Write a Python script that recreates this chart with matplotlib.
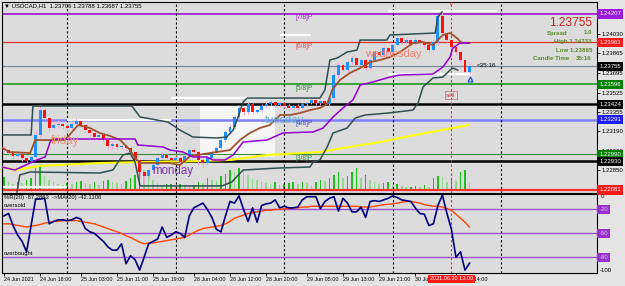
import numpy as np
import matplotlib
matplotlib.use("Agg")
import matplotlib.pyplot as plt
import matplotlib.transforms as mtransforms

plt.rcParams["font.family"] = ["Liberation Sans", "DejaVu Sans"]

# hourly candles, 24 Jun 10:00 .. 30 Jun 13:00 (bar index = x)
opens = [1.23045, 1.23027, 1.23001, 1.22975, 1.22993, 1.22958, 1.22932, 1.22967, 1.23158, 1.23374,
         1.23305, 1.23218, 1.23244, 1.23253, 1.23236, 1.23218, 1.23253, 1.23279, 1.23244, 1.23201,
         1.23175, 1.23140, 1.23158, 1.23114, 1.23062, 1.23080, 1.23054, 1.23062, 1.23045, 1.23010,
         1.22941, 1.22837, 1.22802, 1.22854, 1.22897, 1.22958, 1.22984, 1.22958, 1.22941, 1.22958,
         1.22923, 1.22975, 1.23027, 1.23010, 1.22941, 1.22915, 1.22958, 1.23010, 1.23045, 1.23114,
         1.23184, 1.23227, 1.23314, 1.23392, 1.23357, 1.23426, 1.23357, 1.23374, 1.23409, 1.23426,
         1.23444, 1.23418, 1.23435, 1.23409, 1.23392, 1.23409, 1.23392, 1.23426, 1.23435, 1.23461,
         1.23435, 1.23452, 1.23426, 1.23478, 1.23678, 1.23764, 1.23721, 1.23790, 1.23825, 1.23764,
         1.23808, 1.23738, 1.23808, 1.23877, 1.23851, 1.23912, 1.23877, 1.23938, 1.23999, 1.23964,
         1.23981, 1.23947, 1.23981, 1.23964, 1.23938, 1.23894, 1.23964, 1.24189, 1.24042, 1.23981,
         1.23921, 1.23877, 1.23808, 1.23706]
highs = [1.23062, 1.23045, 1.23010, 1.23010, 1.23001, 1.22967, 1.22984, 1.23201, 1.23418, 1.23392,
         1.23314, 1.23270, 1.23288, 1.23262, 1.23253, 1.23270, 1.23305, 1.23288, 1.23253, 1.23210,
         1.23184, 1.23175, 1.23167, 1.23123, 1.23097, 1.23088, 1.23080, 1.23071, 1.23062, 1.23019,
         1.22950, 1.22845, 1.22871, 1.22915, 1.22975, 1.23010, 1.22993, 1.22975, 1.22975, 1.22967,
         1.22993, 1.23045, 1.23045, 1.23019, 1.22950, 1.22975, 1.23027, 1.23062, 1.23132, 1.23201,
         1.23253, 1.23331, 1.23418, 1.23409, 1.23444, 1.23435, 1.23383, 1.23426, 1.23444, 1.23461,
         1.23452, 1.23444, 1.23444, 1.23426, 1.23418, 1.23426, 1.23435, 1.23452, 1.23478, 1.23470,
         1.23461, 1.23461, 1.23496, 1.23695, 1.23790, 1.23782, 1.23808, 1.23842, 1.23834, 1.23825,
         1.23816, 1.23825, 1.23894, 1.23886, 1.23929, 1.23921, 1.23955, 1.24016, 1.24007, 1.23999,
         1.23990, 1.23999, 1.23990, 1.23973, 1.23947, 1.23981, 1.24198, 1.24224, 1.24051, 1.23990,
         1.23929, 1.23886, 1.23816, 1.23788]
lows = [1.23010, 1.22984, 1.22950, 1.22958, 1.22932, 1.22906, 1.22923, 1.22941, 1.23140, 1.23288,
        1.23192, 1.23210, 1.23227, 1.23210, 1.23192, 1.23201, 1.23244, 1.23227, 1.23184, 1.23149,
        1.23106, 1.23123, 1.23097, 1.23036, 1.23045, 1.23027, 1.23036, 1.23019, 1.22984, 1.22906,
        1.22802, 1.22741, 1.22776, 1.22837, 1.22889, 1.22950, 1.22941, 1.22915, 1.22932, 1.22889,
        1.22906, 1.22958, 1.22984, 1.22889, 1.22871, 1.22897, 1.22941, 1.22993, 1.23027, 1.23097,
        1.23167, 1.23210, 1.23296, 1.23331, 1.23340, 1.23340, 1.23348, 1.23357, 1.23392, 1.23409,
        1.23400, 1.23400, 1.23392, 1.23366, 1.23374, 1.23374, 1.23383, 1.23409, 1.23426, 1.23418,
        1.23418, 1.23409, 1.23409, 1.23461, 1.23652, 1.23704, 1.23704, 1.23773, 1.23747, 1.23747,
        1.23721, 1.23721, 1.23799, 1.23834, 1.23842, 1.23860, 1.23868, 1.23929, 1.23947, 1.23955,
        1.23929, 1.23938, 1.23947, 1.23921, 1.23868, 1.23886, 1.23938, 1.24025, 1.23964, 1.23903,
        1.23851, 1.23790, 1.23695, 1.23687]
closes = [1.23027, 1.23001, 1.22975, 1.22993, 1.22958, 1.22932, 1.22967, 1.23158, 1.23374, 1.23305,
          1.23218, 1.23244, 1.23253, 1.23236, 1.23218, 1.23253, 1.23279, 1.23244, 1.23201, 1.23175,
          1.23140, 1.23158, 1.23114, 1.23062, 1.23080, 1.23054, 1.23062, 1.23045, 1.23010, 1.22941,
          1.22837, 1.22802, 1.22854, 1.22897, 1.22958, 1.22984, 1.22958, 1.22941, 1.22958, 1.22923,
          1.22975, 1.23027, 1.23010, 1.22941, 1.22915, 1.22958, 1.23010, 1.23045, 1.23114, 1.23184,
          1.23227, 1.23314, 1.23392, 1.23357, 1.23426, 1.23357, 1.23374, 1.23409, 1.23426, 1.23444,
          1.23418, 1.23435, 1.23409, 1.23392, 1.23409, 1.23392, 1.23426, 1.23435, 1.23461, 1.23435,
          1.23452, 1.23426, 1.23478, 1.23678, 1.23764, 1.23721, 1.23790, 1.23825, 1.23764, 1.23808,
          1.23738, 1.23808, 1.23877, 1.23851, 1.23912, 1.23877, 1.23938, 1.23999, 1.23964, 1.23981,
          1.23947, 1.23981, 1.23964, 1.23938, 1.23894, 1.23964, 1.24189, 1.24042, 1.23981, 1.23921,
          1.23877, 1.23808, 1.23706, 1.23755]
volumes = [1300, 800, 600, 800, 700, 1000, 1200, 2200, 2400, 1400,
           1000, 800, 600, 500, 700, 600, 800, 900, 700, 600,
           800, 500, 900, 1000, 800, 700, 600, 900, 1200, 1500,
           2600, 2000, 1400, 1000, 700, 500, 600, 600, 400, 600,
           500, 400, 500, 800, 700, 1200, 1000, 900, 1400, 1600,
           2000, 1800, 2200, 2000, 1500, 1200, 1000, 800, 700, 600,
           800, 500, 600, 700, 800, 600, 800, 700, 500, 800,
           1000, 900, 1200, 1500, 1800, 1200, 1400, 1800, 2200, 1200,
           1500, 1000, 800, 600, 700, 800, 500, 600, 400, 300,
           300, 400, 300, 500, 300, 1200, 1400, 1300, 800, 1200,
           900, 1800, 2000, 700]

# Williams %R(20) and its MA(20)
wpr = [-28, -25, -40, -52, -60, -73, -40, -7, -7, -6,
       -38, -35, -33, -33, -34, -33, -30, -32, -44, -48,
       -50, -55, -60, -67, -71, -71, -63, -88, -78, -83,
       -96, -80, -63, -60, -57, -42, -55, -52, -48, -50,
       -55, -28, -18, -15, -12, -20, -30, -45, -48, -28,
       -10, -12, -3, -20, -35, -18, -36, -15, -13, -12,
       -8, -18, -16, -18, -18, -17, -8, -4, -4, -4,
       -19, -10, -6, -4, -22, -6, -12, -23, -23, -17,
       -30, -10, -9, -10, -8, -6, -3, -5, -8, -9,
       -10, -18, -25, -26, -40, -38, -15, -2, -25, -45,
       -80, -73, -96, -87.29]
wpr_ma = [-38, -38, -39, -40, -41, -42, -41, -40, -39, -37,
          -36, -35, -35, -34, -34, -34, -34, -35, -36, -37,
          -38, -40, -42, -44, -46, -48, -50, -53, -55, -58,
          -61, -63, -62, -62, -61, -60, -59, -58, -57, -56,
          -55, -52, -49, -46, -44, -43, -42, -41, -40, -38,
          -35, -31, -29, -27, -25, -24, -23, -22, -21, -21,
          -20, -20, -19, -19, -18, -18, -17, -17, -16, -16,
          -16, -16, -16, -16, -16, -16, -16, -16, -16, -17,
          -17, -17, -16, -15, -14, -13.5, -13, -12, -11, -10,
          -10, -11, -12, -14, -15, -16, -16, -17, -19, -21,
          -26, -31, -36, -42.11]

# indicator lines on the price chart, read as (bar, price) vertices
ma_bars = [-0.4, 1.3, 5.8, 6.9, 13.5, 16.4, 19.0, 21.2, 23.5, 25.7, 26.8, 27.9, 29.0, 30.1,
           36.7, 38.9, 41.2, 47.1, 50.0, 52.2, 54.4, 56.6, 58.8, 61.1, 63.3, 65.5, 67.7,
           69.9, 71.5, 72.6, 74.3, 76.5, 78.8, 81.0, 83.2, 85.4, 87.6, 90.5, 92.7, 94.9,
           97.1, 98.7, 100.2, 101.3, 102.9]
ma_prices = [1.23045, 1.23010, 1.23001, 1.23114, 1.23114, 1.23244, 1.23218, 1.23175, 1.23149,
             1.23114, 1.23071, 1.23027, 1.22958, 1.22915, 1.22915, 1.22897, 1.22975, 1.23010,
             1.23027, 1.23114, 1.23175, 1.23218, 1.23244, 1.23331, 1.23331, 1.23348, 1.23374,
             1.23392, 1.23426, 1.23548, 1.23634, 1.23695, 1.23738, 1.23790, 1.23808, 1.23834,
             1.23877, 1.23955, 1.23964, 1.23938, 1.24025, 1.24042, 1.23999, 1.23955, 1.23955]

band_bars = [-0.4, 2.4, 5.8, 7.3, 9.1, 10.2, 10.8, 29.0, 29.6, 35.2, 36.7, 39.6, 41.8, 44.9,
             46.2, 48.9, 50.7, 52.9, 58.2, 61.7, 68.4, 70.6, 72.8, 75.0, 77.2, 78.8, 81.6,
             85.4, 87.6, 94.9, 97.1, 98.7, 99.3, 100.9, 102.9]
band_prices = [1.22880, 1.22854, 1.22915, 1.22941, 1.22967, 1.23097, 1.23123, 1.23123, 1.23071,
               1.23054, 1.23027, 1.23010, 1.22967, 1.22967, 1.22941, 1.22941, 1.22984, 1.23097,
               1.23114, 1.23175, 1.23184, 1.23218, 1.23314, 1.23392, 1.23461, 1.23591, 1.23617,
               1.23660, 1.23678, 1.23686, 1.23747, 1.23834, 1.23912, 1.23955, 1.23955]

upper_bars = [-0.4, 6.0, 6.4, 28.3, 30.1, 36.3, 38.9, 41.8, 47.1, 49.3, 50.7, 51.8, 52.9, 53.8,
              69.9, 71.0, 72.1, 73.7, 75.9, 78.1, 78.8, 84.7, 85.4, 95.4, 96.0, 96.9]
upper_prices = [1.23158, 1.23158, 1.23409, 1.23409, 1.23314, 1.23270, 1.23201, 1.23140, 1.23132,
                1.23140, 1.23201, 1.23314, 1.23444, 1.23478, 1.23478, 1.23548, 1.23808, 1.23825,
                1.23877, 1.23894, 1.23981, 1.23981, 1.24025, 1.24042, 1.24181, 1.24224]

lower_bars = [2.9, 3.5, 5.8, 21.2, 24.1, 26.3, 27.9, 29.0, 30.1, 48.2, 50.4, 52.9, 60.6, 67.7,
              68.4, 69.9, 71.5, 72.8, 75.9, 77.7, 79.9, 85.0, 90.5, 91.6, 92.7, 94.9, 97.1,
              98.7, 99.3, 100.4]
lower_prices = [1.22663, 1.22811, 1.22837, 1.22828, 1.22854, 1.22984, 1.23001, 1.22923, 1.22716,
                1.22716, 1.22750, 1.22854, 1.22871, 1.22880, 1.22923, 1.22941, 1.23054, 1.23175,
                1.23218, 1.23305, 1.23331, 1.23348, 1.23374, 1.23435, 1.23574, 1.23652, 1.23660,
                1.23721, 1.23738, 1.23721]

slow_bars = [-0.4, 2.4, 8.0, 21.2, 30.1, 43.4, 50.0, 58.2, 69.9, 76.5, 83.2, 89.8, 102.9]
slow_prices = [1.22880, 1.22854, 1.22889, 1.22915, 1.22923, 1.22932, 1.22941, 1.22984,
               1.23010, 1.23054, 1.23097, 1.23149, 1.23244]

# horizontal levels
level_prices = [1.24207, 1.23961, 1.23755, 1.23596, 1.23424, 1.23291, 1.22990, 1.22930, 1.22681]
murrey_labels = ["[7/8]P", "[6/8]P", "[5/8]P", "[4/8]P", "[3/8]P"]
murrey_prices = [1.24207, 1.23961, 1.23596, 1.23291, 1.22990]

white_start = [85, 61, 85, 37, 14, -0.4]
white_end = [109, 68, 103.5, 61, 37, 14]
white_prices = [1.24233, 1.24025, 1.23686, 1.23478, 1.23291, 1.22707]

price_ticks = [1.24030, 1.23865, 1.23695, 1.23525, 1.23355, 1.23190, 1.23020, 1.22850]
time_bars = [0, 8, 17, 25, 33, 42, 50, 58, 67, 75, 83, 91, 100]
time_labels = ["24 Jun 2021", "24 Jun 18:00", "25 Jun 03:00", "25 Jun 11:00", "25 Jun 19:00",
               "28 Jun 04:00", "28 Jun 12:00", "28 Jun 20:00", "29 Jun 05:00", "29 Jun 13:00",
               "29 Jun 21:00", "30 Jun 05:00", "30 Jun 14:00"]
day_starts = [14, 38, 62, 86, 110]
wpr_levels = [-20, -50, -80]

# ---------------------------------------------------------------
W, H = 625, 286
BG = "#dcdcdc"


def fx(x):
    return x / W


def fy(y):
    return 1 - y / H


fig = plt.figure(figsize=(W / 100, H / 100), dpi=100, facecolor="#e4e4e4")
ax = fig.add_axes([fx(2), fy(192.5), fx(595), (192.5 - 2) / H])
axr = fig.add_axes([fx(2), fy(273.3), fx(595), (273.3 - 193.5) / H])

bars = np.arange(len(closes))
o, h, l, c = map(np.array, (opens, highs, lows, closes))

# volumes sit on their own scale behind the price chart
vax = ax.twinx()
ax.set_zorder(vax.get_zorder() + 1)
ax.patch.set_visible(False)
vax.patch.set_visible(True)
vax.patch.set_facecolor(BG)
vol = np.array(volumes)
vcol = ["#1fbf1f" if i == 0 or vol[i] >= vol[i - 1] else "#8fd88f" for i in range(len(vol))]
vax.bar(bars, vol, width=0.35, color=vcol)
vax.set_ylim(-250, 18800)
vax.set_yticks([])
for s in vax.spines.values():
    s.set_visible(False)

ax.set_xlim(-0.44, 131.2)
ax.set_ylim(1.22659, 1.24311)
axr.set_xlim(-0.44, 131.2)
axr.set_ylim(-100, 0)
axr.set_facecolor(BG)

# white box behind the tuesday rally
ax.fill_between([43.4, 60], 1.22967, 1.23426, color="#f6f6f6", lw=0, zorder=1)

level_styles = [("#a020d0", 1.3), ("#e03030", 0.9), ("#778899", 0.9), ("#1e9a1e", 1.2),
                ("#000000", 1.8), ("#8080ff", 1.8), ("#3a8a3a", 0.8), ("#000000", 1.8),
                ("#ff3030", 1.6)]
for p, (col, lw) in zip(level_prices, level_styles):
    ax.axhline(p, color=col, lw=lw, zorder=2)
for s, e, p in zip(white_start, white_end, white_prices):
    ax.plot([s, e], [p, p], color="white", lw=1.6, zorder=2.5, solid_capstyle="butt")

for b in day_starts:
    for a in (ax, axr):
        a.axvline(b, color="black", lw=0.8, ls=(0, (2, 2)), zorder=2)
for a in (ax, axr):
    a.axvline(99, color="#ff2020", lw=0.8, ls=(0, (2, 2)), zorder=2)

ax.plot(slow_bars, slow_prices, color="#ffff00", lw=1.5, zorder=3)
ax.plot(upper_bars, upper_prices, color="#2f4f4f", lw=1.1, zorder=6)
ax.plot(lower_bars, lower_prices, color="#2f4f4f", lw=1.1, zorder=6)

# candles
up = c >= o
ax.vlines(bars, l, h, color="#f2a6d6", lw=0.7, zorder=4)
ax.bar(bars, np.maximum(np.abs(c - o), 0.00003), bottom=np.minimum(o, c), width=0.65,
       color=np.where(up, "#1e90ff", "#ff1010"), zorder=5)

ax.plot(ma_bars, ma_prices, color="#a0522d", lw=1.3, zorder=6)
ax.plot(band_bars, band_prices, color="#9400d3", lw=1.1, zorder=6)

# texts on the chart
ax.text(10.4, 1.23106, "friday", color="#e9967a", fontsize=8.3, va="center", zorder=7)
ax.text(32.7, 1.22846, "monday", color="#8030b0", fontsize=8.3, va="center", zorder=7)
ax.text(57.7, 1.23288, "tuesday", color="#6aaed0", fontsize=8.0, va="center", zorder=7)
ax.text(79.9, 1.23860, "wednesday", color="#f08070", fontsize=8.0, va="center", zorder=7)
mcol = ["#a020d0", "#e05050", "#2e8b3e", "#5050c0", "#2e8b3e"]
for lbl, p, col in zip(murrey_labels, murrey_prices, mcol):
    ax.annotate(lbl, (64.4, p), xytext=(0, -4), textcoords="offset pixels",
                color=col, fontsize=4.8, va="center", zorder=7)
ax.text(98.9, 1.23504, "sell", color="#c05050", fontsize=4.5, ha="center", va="center",
        bbox=dict(boxstyle="square,pad=0.2", fc="none", ec="#c08080", lw=0.6), zorder=7)
ax.text(99, 1.24290, "v", color="#ff2020", fontsize=4, ha="center", va="center", zorder=7)
ax.plot([103], [1.23643], marker="^", ms=3.5, mfc="none", mec="#2050d0", mew=0.9, zorder=7)
ax.text(104.5, 1.23756, "<35:16", color="black", fontsize=4.5, va="center", zorder=7)

# price axis on the right
ax.set_xticks([])
ax.yaxis.tick_right()
ax.set_yticks(price_ticks)
ax.set_yticklabels([f"{p:.5f}" for p in price_ticks])
ax.tick_params(axis="y", labelsize=4.3, length=2, width=0.6, pad=1.5)
trans = mtransforms.blended_transform_factory(ax.transAxes, ax.transData)
tag_colors = ["#9a18d8", "#ff1a1a", "#000000", "#008000", "#000000", "#1e1eff",
              "#008000", "#000000", "#ff1a1a"]
for p, col in zip(level_prices, tag_colors):
    ax.text(1.004, p, f"{p:.5f}", transform=trans, ha="left", va="center", fontsize=4.3,
            color="white", bbox=dict(boxstyle="square,pad=0.35", fc=col, ec="none"),
            clip_on=False)

# info block
fig.text(fx(592), fy(22.5), "1.23755", color="#c81e1e", fontsize=8.6, ha="right", va="center")
info_col = "#5b8a2a"
fig.text(fx(547), fy(33), "Spread", color=info_col, fontsize=4.4, weight="bold", va="center")
fig.text(fx(592), fy(33), "1.0", color=info_col, fontsize=4.4, weight="bold", ha="right", va="center")
fig.text(fx(592), fy(41.5), "High 1.24233", color=info_col, fontsize=4.4, weight="bold",
         ha="right", va="center")
fig.text(fx(592), fy(50), "Low 1.23865", color=info_col, fontsize=4.4, weight="bold",
         ha="right", va="center")
fig.text(fx(533), fy(59), "Candle Time", color=info_col, fontsize=4.4, weight="bold", va="center")
fig.text(fx(592), fy(59), "35:16", color=info_col, fontsize=4.4, weight="bold", ha="right", va="center")
fig.text(fx(4), fy(6), "\u25bc USDCAD,H1  1.23706 1.23788 1.23687 1.23755", color="black",
         fontsize=4.3, va="center")

# %R window
for v in wpr_levels:
    axr.axhline(v, color="#a050c8", lw=1, zorder=2)
axr.plot(bars, wpr_ma, color="#ff4500", lw=1.0, zorder=4)
axr.plot(bars, wpr, color="#000080", lw=1.2, zorder=5)
axr.set_yticks([])
rtrans = mtransforms.blended_transform_factory(axr.transAxes, axr.transData)
for v in wpr_levels:
    axr.text(1.004, v, f"{v}", transform=rtrans, ha="left", va="center", fontsize=4.3,
             color="#d0d0d0", bbox=dict(boxstyle="square,pad=0.35", fc="#9a30d0", ec="none"),
             clip_on=False)
fig.text(fx(601), fy(197), "0", fontsize=4.3, va="center")
fig.text(fx(600), fy(270), "-100", fontsize=4.3, va="center")
fig.text(fx(4), fy(198), "%R(20) -87.2863  ->MA(20) -42.1106", fontsize=4.2, va="center")
fig.text(fx(4), fy(205.5), "oversold", fontsize=4.2, va="center")
fig.text(fx(4), fy(254), "overbought", fontsize=4.2, va="center")

axr.set_xticks(time_bars)
axr.set_xticklabels(time_labels)
for t in axr.get_xticklabels():
    t.set_ha("left")
axr.tick_params(axis="x", labelsize=3.9, length=2, width=0.6, pad=1)
btrans = mtransforms.blended_transform_factory(axr.transData, fig.transFigure)
axr.text(99, fy(279), "2021.06.30 13:00", transform=btrans, ha="center", va="center",
         fontsize=4.0, color="white", bbox=dict(boxstyle="square,pad=0.3", fc="#ff1a1a", ec="none"),
         clip_on=False, zorder=10)

for a in (ax, axr):
    for s in a.spines.values():
        s.set_color("black")
        s.set_linewidth(0.8)

fig.savefig("out.png", dpi=100, facecolor=fig.get_facecolor())
